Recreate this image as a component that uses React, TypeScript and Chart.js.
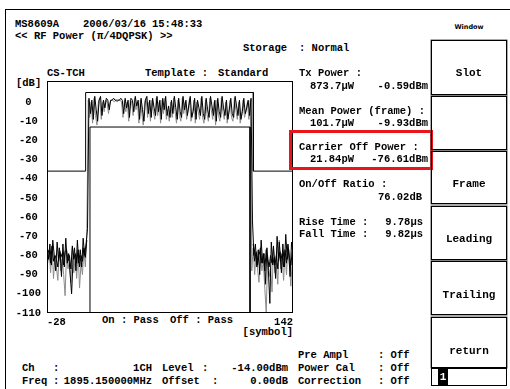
import React, { useEffect, useRef } from "react";
import { Chart, registerables } from "chart.js";

Chart.register(...registerables);

// ---- axis ticks ----
const xTickValues = [-28, 142];
const yTickValues = [-110, -100, -90, -80, -70, -60, -50, -40, -30, -20, -10, 0];

// ---- template (mask) ----
const upperMaskSymbols = [-28, -1.3, -1.3, 114.6, 114.6, 142];
const upperMaskDb = [-36, -36, 5, 5, -36, -36];
const lowerMaskSymbols = [1.7, 1.7, 112.3, 112.3];
const lowerMaskDb = [-110, -13, -13, -110];

// ---- measured trace (black), symbols -28 .. 142, one value per symbol ----
const blackTraceStart = -28;
const blackTraceDb = [
  // -28 .. -1
  -76, -82, -74, -85, -72, -80, -88, -73, -83, -78, -91, -74, -86, -71, -84, -79, -90, -100, -82, -76, -88, -72, -84, -77, -86, -71, -80, -74,
  // 0
  -66,
  // 1 .. 113
  2, -6, 1, -9, 3, -4, -10, 1, 3, -7,
  1, -3, 2, 1, -4, 1, 1, 2, 1, 1,
  1, 1, 2, 1, -6, 2, -3, 1, -8, 2,
  1, -5, 3, -2, 1, -9, 2, -4, -10, 1,
  3, -6, 1, -8, 2, -3, -7, 3, -5, 1,
  -9, 2, -4, 3, -7, -2, -8, 1, -6, 3,
  -3, -9, 2, -5, -8, 3, -4, 1, -7, -2,
  3, -8, -5, 2, -9, 1, -3, -7, 3, -6,
  -9, 2, -4, -8, 3, -2, -7, 1, -10, 2,
  -5, -8, 3, -3, -7, 1, -9, -4, 2, -6,
  -8, 3, -2, -7, 1, -9, -5, 2, -6, -3,
  1, -7, 2,
  // 114 .. 142
  -62, -80, -74, -86, -77, -90, -72, -84, -79, -95, -76, -88, -105, -73, -85, -81, -92, -70, -83, -78, -89, -74, -86, -69, -82, -77, -91, -73, -80,
];

// ---- extra black samples of the off-burst noise (half-symbol positions) ----
const leadNoiseStart = -27.5;
const leadNoiseDb = [-79, -77, -84, -75, -83, -80, -82, -86, -76, -81, -79, -85, -78, -77, -83, -80, -87, -75, -82, -79, -84, -77, -86, -80, -83, -76, -81, -72];
const trailNoiseStart = 114.5;
const trailNoiseDb = [-74, -83, -78, -85, -80, -76, -84, -79, -88, -77, -82, -86, -80, -84, -75, -85, -80, -87, -73, -83, -79, -86, -77, -84, -74, -81, -85, -78];

// ---- second trace (grey), symbols -27.5 .. 141.5 ----
const greyTraceStart = -27.5;
const greyTraceDb = [
  // -27.5 .. -0.5
  -84, -78, -89, -75, -92, -80, -86, -93, -77, -88, -82, -90, -101, -79, -87, -83, -94, -76, -89, -81, -92, -78, -97, -84, -90, -77, -86, -70,
  // 0.5 .. 112.5
  1, -8, 0, -11, 2, -7, -12, 0, 2, -9,
  0, -5, 1, 0, -6, 0, 1, 1, 0, 1,
  0, 1, 1, 0, -8, 1, -5, 0, -10, 1,
  0, -7, 2, -4, 0, -11, 1, -6, -12, 0,
  2, -8, 0, -10, 1, -5, -9, 2, -7, 0,
  -11, 1, -6, 2, -9, -4, -10, 0, -8, 2,
  -5, -11, 1, -7, -10, 2, -6, 0, -9, -4,
  2, -10, -7, 1, -11, 0, -5, -9, 2, -8,
  -11, 1, -6, -10, 2, -4, -9, 0, -12, 1,
  -7, -10, 2, -5, -9, 0, -11, -6, 1, -8,
  -10, 2, -4, -9, 0, -11, -7, 1, -8, -5,
  0, -9, 1,
  // 113.5 .. 141.5
  -88, -76, -90, -79, -87, -94, -78, -88, -83, -97, -110, -80, -91, -86, -99, -77, -89, -84, -95, -72, -87, -81, -93, -78, -90, -75, -85, -96, -82,
];

const FONT = "'Liberation Mono', 'DejaVu Sans Mono', monospace";
const FS = 10.5;

type TP = { x?: number; r?: number; y: number; children: React.ReactNode; size?: number; family?: string };
function T({ x, r, y, children, size = FS, family = FONT }: TP) {
  const style: React.CSSProperties = {
    position: "absolute",
    top: y - 7,
    height: 14,
    lineHeight: "14px",
    fontFamily: family,
    fontSize: size,
    fontWeight: "bold",
    whiteSpace: "pre",
    color: "#000",
  };
  if (r !== undefined) style.right = 510 - r;
  else style.left = x;
  return <div style={style}>{children}</div>;
}

function Btn({ top, bottom, label, ty }: { top: number; bottom: number; label?: string; ty?: number }) {
  return (
    <div
      style={{
        position: "absolute",
        left: 431,
        top,
        width: 76,
        height: bottom - top,
        border: "1px solid #000",
        boxSizing: "border-box",
        boxShadow: "0 0 0 0.5px #555",
      }}
    >
      {label && (
        <div
          style={{
            position: "absolute",
            left: 0,
            right: 0,
            top: (ty as number) - top - 7,
            height: 14,
            lineHeight: "14px",
            textAlign: "center",
            fontFamily: FONT,
            fontSize: FS + 0.5,
            fontWeight: "bold",
            color: "#000",
          }}
        >
          {label}
        </div>
      )}
    </div>
  );
}

function PowerChart() {
  const ref = useRef<HTMLCanvasElement | null>(null);
  useEffect(() => {
    if (!ref.current) return;
    const blackPts = blackTraceDb.map((v, i) => ({ x: blackTraceStart + i, y: v }));
    const leadPts = leadNoiseDb.map((v, i) => ({ x: leadNoiseStart + i, y: v }));
    const trailPts = trailNoiseDb.map((v, i) => ({ x: trailNoiseStart + i, y: v }));
    const greyPts = greyTraceDb.map((v, i) => ({ x: greyTraceStart + i, y: v }));
    const upperPts = upperMaskSymbols.map((s, i) => ({ x: s, y: upperMaskDb[i] }));
    const lowerPts = lowerMaskSymbols.map((s, i) => ({ x: s, y: lowerMaskDb[i] }));
    const tickFont = { family: FONT, size: FS, weight: "bold" as const };
    const line = { borderWidth: 1, pointRadius: 0, tension: 0 };
    const chart = new Chart(ref.current, {
      type: "line",
      data: {
        datasets: [
          { label: "trace", data: blackPts, borderColor: "#000", order: 0, ...line },
          { label: "lead", data: leadPts, borderColor: "#000", order: 0, ...line },
          { label: "trail", data: trailPts, borderColor: "#000", order: 0, ...line },
          { label: "upper", data: upperPts, borderColor: "#000", order: 1, ...line },
          { label: "lower", data: lowerPts, borderColor: "#000", order: 1, ...line },
          { label: "grey", data: greyPts, borderColor: "#8c8c8c", order: 2, ...line },
        ],
      },
      options: {
        animation: false,
        responsive: false,
        devicePixelRatio: 1,
        events: [],
        plugins: { legend: { display: false }, tooltip: { enabled: false } },
        layout: { padding: { left: 4, top: 19, right: 7, bottom: 0 } },
        scales: {
          x: {
            type: "linear",
            min: -28,
            max: 142,
            afterBuildTicks: (s: any) => {
              s.ticks = xTickValues.map((v) => ({ value: v }));
            },
            afterFit: (s: any) => {
              s.height = 27;
            },
            grid: { display: false, drawTicks: false },
            border: { display: false },
            ticks: { align: "inner", padding: 3, color: "#000", font: tickFont, maxRotation: 0, autoSkip: false },
          },
          y: {
            type: "linear",
            min: -110,
            max: 11,
            afterBuildTicks: (s: any) => {
              s.ticks = yTickValues.map((v) => ({ value: v }));
            },
            afterFit: (s: any) => {
              s.width = 35;
            },
            grid: { display: false, drawTicks: false },
            border: { display: false },
            ticks: { crossAlign: "center", padding: 6, color: "#000", font: tickFont, autoSkip: false },
          },
        },
      },
      plugins: [
        {
          id: "frame",
          afterDatasetsDraw(c: any) {
            const { left, top, right, bottom } = c.chartArea;
            const ctx = c.ctx;
            ctx.save();
            ctx.strokeStyle = "#000";
            ctx.lineWidth = 1;
            ctx.strokeRect(Math.round(left) + 0.5, Math.round(top) + 0.5, Math.round(right - left) - 1, Math.round(bottom - top) - 1);
            ctx.restore();
          },
        },
      ],
    } as any);
    return () => chart.destroy();
  }, []);
  return (
    <canvas
      ref={ref}
      width={292}
      height={278}
      style={{ position: "absolute", left: 8, top: 62, width: 292, height: 278 }}
    />
  );
}

export default function App() {
  return (
    <div style={{ position: "absolute", left: 0, top: 0, width: 510, height: 389, overflow: "hidden", background: "#fff" }}>
      {/* outer frame */}
      <div style={{ position: "absolute", left: 5, top: 9, width: 510, height: 400, borderLeft: "1px solid #000", borderTop: "1px solid #000" }} />

      {/* header */}
      <T x={15} y={24}>MS8609A</T>
      <T x={83} y={24}>2006/03/16</T>
      <T x={152} y={24}>15:48:33</T>
      <T x={15} y={36}>{"<< RF Power (π/4DQPSK) >>"}</T>
      <T x={243} y={48}>Storage</T>
      <T x={299} y={48}>: Normal</T>
      <div
        style={{
          position: "absolute",
          left: 431,
          width: 76,
          top: 23,
          height: 9,
          lineHeight: "9px",
          textAlign: "center",
          fontFamily: "'DejaVu Sans', sans-serif",
          fontSize: 6.5,
          fontWeight: "bold",
        }}
      >
        Window
      </div>

      {/* chart labels */}
      <T x={47} y={73}>CS-TCH</T>
      <T x={145} y={73}>Template :</T>
      <T x={218} y={73}>Standard</T>
      <T x={16} y={83}>[dB]</T>
      <T x={102} y={320}>On : Pass</T>
      <T x={170} y={320}>Off : Pass</T>
      <T r={293} y={332}>[symbol]</T>

      <PowerChart />

      {/* right results column */}
      <T x={299} y={73}>Tx Power :</T>
      <T r={354} y={86}>873.7μW</T>
      <T r={428} y={86}>-0.59dBm</T>
      <T x={299} y={111}>Mean Power (frame) :</T>
      <T r={354} y={123}>101.7μW</T>
      <T r={428} y={123}>-9.93dBm</T>
      <T x={299} y={147}>Carrier Off Power :</T>
      <T r={354} y={159}>21.84pW</T>
      <T r={428} y={159}>-76.61dBm</T>
      <div
        style={{
          position: "absolute",
          left: 289,
          top: 130,
          width: 144,
          height: 40,
          border: "3px solid #e8151b",
          boxSizing: "border-box",
        }}
      />
      <T x={299} y={184}>On/Off Ratio :</T>
      <T r={422} y={197}>76.02dB</T>
      <T x={299} y={222}>Rise Time :</T>
      <T r={423} y={222}>9.78μs</T>
      <T x={299} y={234}>Fall Time :</T>
      <T r={423} y={234}>9.82μs</T>

      {/* bottom status */}
      <T x={298} y={355}>Pre Ampl</T>
      <T x={378} y={355}>: Off</T>
      <T x={22} y={368}>Ch</T>
      <T x={53} y={368}>:</T>
      <T r={152} y={368}>1CH</T>
      <T x={162} y={368}>Level</T>
      <T x={202} y={368}>:</T>
      <T r={288} y={368}>-14.00dBm</T>
      <T x={298} y={368}>Power Cal</T>
      <T x={378} y={368}>: Off</T>
      <T x={22} y={381}>Freq</T>
      <T x={53} y={381}>:</T>
      <T r={152} y={381}>1895.150000MHz</T>
      <T x={162} y={381}>Offset</T>
      <T x={212} y={381}>:</T>
      <T r={288} y={381}>0.00dB</T>
      <T x={298} y={381}>Correction</T>
      <T x={378} y={381}>: Off</T>

      {/* soft keys */}
      <Btn top={40} bottom={95} label="Slot" ty={72} />
      <Btn top={96} bottom={150} />
      <Btn top={151} bottom={204} label="Frame" ty={183} />
      <Btn top={206} bottom={260} label="Leading" ty={238} />
      <Btn top={261} bottom={315} label="Trailing" ty={294} />
      <Btn top={317} bottom={368} label="return" ty={350} />
      <div style={{ position: "absolute", left: 431, top: 368, width: 76, height: 18, border: "1px solid #000", boxSizing: "border-box" }} />
      <div
        style={{
          position: "absolute",
          left: 438,
          top: 369,
          width: 10,
          height: 16,
          background: "#000",
          color: "#fff",
          fontFamily: FONT,
          fontWeight: "bold",
          fontSize: 11,
          lineHeight: "16px",
          textAlign: "center",
        }}
      >
        1
      </div>
    </div>
  );
}
